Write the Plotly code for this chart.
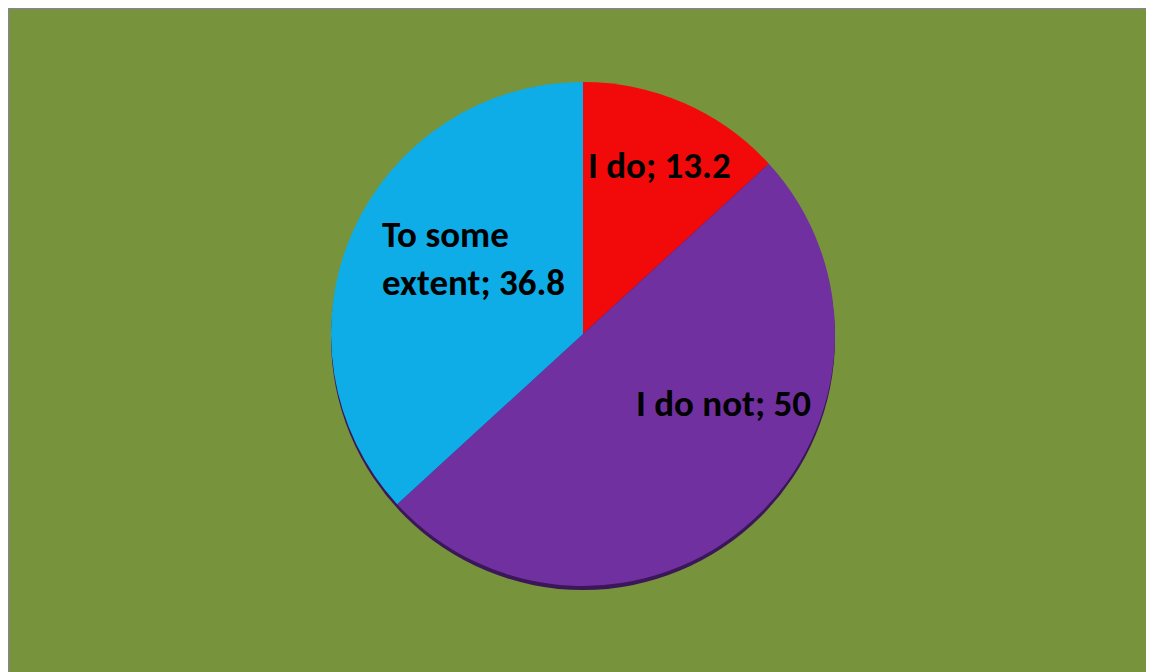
import plotly.graph_objects as go

labels = ["I do", "I do not", "To some<br>extent"]
values = [13.2, 50, 36.8]
colors = ["#F20A0A", "#7030A0", "#0EADE8"]

W, H = 1146, 664
# pie centre and radius in figure pixels
cx, cy, r = 575, 326, 252
shadow_dy = 4

def dom(dy=0):
    return dict(x=[(cx - r) / W, (cx + r) / W],
                y=[1 - (cy + dy + r) / H, 1 - (cy + dy - r) / H])

fig = go.Figure()
# subtle bottom shadow
fig.add_trace(go.Pie(
    values=[1], labels=[""], sort=False,
    marker=dict(colors=["#3B1659"], line=dict(width=0)),
    textinfo="none", hoverinfo="skip", showlegend=False,
    domain=dom(shadow_dy),
))
fig.add_trace(go.Pie(
    labels=labels,
    values=values,
    sort=False,
    direction="clockwise",
    rotation=0,
    marker=dict(colors=colors, line=dict(width=0)),
    textinfo="none",
    hoverinfo="label+value",
    showlegend=False,
    domain=dom(),
))

# label placements (figure pixels, left edge / vertical centre)
label_pos = [(578, 157), (626, 395), (372, 250)]
font = dict(family="Carlito, Lato, sans-serif", size=37, color="black", weight="bold")
for lab, val, (px, py) in zip(labels, values, label_pos):
    fig.add_annotation(
        x=px / W, y=1 - py / H, xref="paper", yref="paper",
        text=f"{lab}; {val:g}", showarrow=False,
        xanchor="left", yanchor="middle", align="left", font=font,
    )

fig.add_shape(type="line", xref="paper", yref="paper",
              x0=0, x1=1, y0=1 - 0.75 / H, y1=1 - 0.75 / H,
              line=dict(color="#868686", width=1.5))
fig.add_shape(type="line", xref="paper", yref="paper",
              x0=0.75 / W, x1=0.75 / W, y0=0, y1=1,
              line=dict(color="#868686", width=1.5))

fig.update_layout(
    width=W, height=H,
    margin=dict(l=0, r=0, t=0, b=0),
    paper_bgcolor="#77933C",
    plot_bgcolor="#77933C",
)

fig.write_html("out.html")
